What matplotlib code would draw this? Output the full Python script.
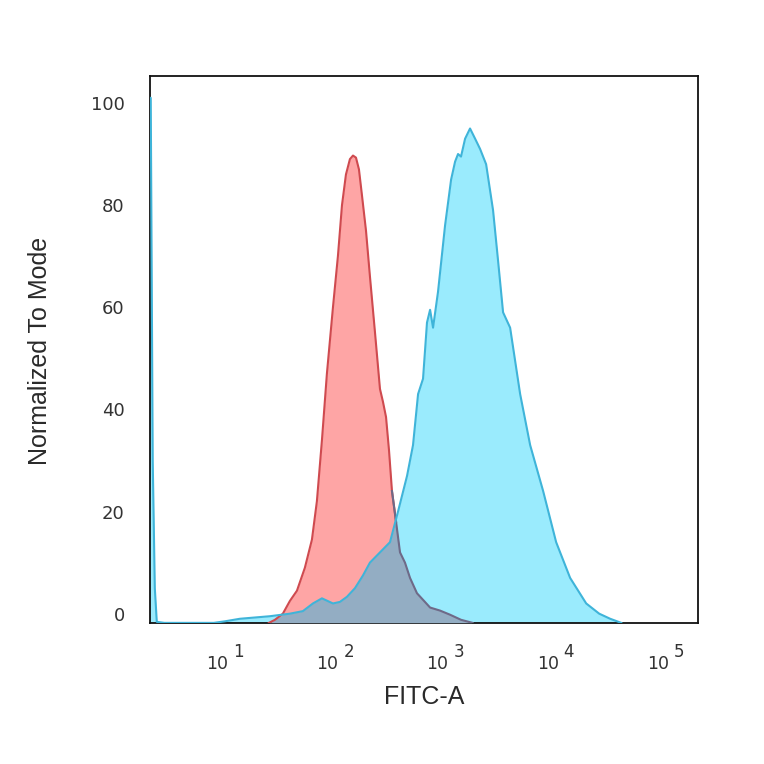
import numpy as np
import matplotlib
matplotlib.use("Agg")
import matplotlib.pyplot as plt

# log10(FITC-A) positions and Normalized-To-Mode values
red_log_fitc = [1.40, 1.455, 1.527, 1.591, 1.655, 1.727, 1.791, 1.836, 1.882, 1.927, 1.982,
                2.027, 2.064, 2.100, 2.136, 2.164, 2.191, 2.218, 2.245, 2.282, 2.318,
                2.364, 2.409, 2.436, 2.464, 2.491, 2.518, 2.555, 2.591, 2.636, 2.682,
                2.745, 2.809, 2.864, 2.955, 3.045, 3.145, 3.25]
red_values = [-1.8, -1.2, 0.0, 2.5, 4.5, 9.0, 14.5, 22.0, 34.0, 47.0, 60.0,
              70.0, 80.0, 86.0, 89.0, 89.7, 89.3, 87.0, 82.0, 75.0, 66.0,
              55.0, 44.0, 41.5, 38.5, 32.0, 24.0, 18.0, 12.0, 10.0, 7.0,
              4.0, 2.5, 1.2, 0.6, -0.2, -1.2, -1.8]

blue_log_fitc = [0.30, 0.327, 0.345, 0.364, 0.382, 0.45, 0.90, 1.0, 1.136, 1.409, 1.591,
                 1.709, 1.800, 1.882, 1.982, 2.045, 2.109, 2.182, 2.255, 2.318, 2.409,
                 2.500, 2.573, 2.655, 2.709, 2.755, 2.800, 2.836, 2.864, 2.891, 2.936,
                 3.000, 3.055, 3.091, 3.118, 3.145, 3.182, 3.227, 3.273, 3.318, 3.373,
                 3.436, 3.482, 3.527, 3.591, 3.682, 3.773, 3.891, 4.009, 4.136, 4.282,
                 4.400, 4.50, 4.60]
blue_values = [101.0, 101.0, 30.0, 5.0, -1.6, -1.8, -1.8, -1.5, -1.0, -0.5, 0.0,
               0.5, 2.0, 3.0, 2.0, 2.3, 3.3, 5.0, 7.5, 10.0, 12.0,
               14.0, 20.0, 27.0, 33.0, 43.0, 46.0, 57.0, 59.5, 56.0, 63.0,
               76.0, 85.0, 88.5, 90.0, 89.5, 93.0, 95.0, 93.0, 91.0, 88.0,
               79.0, 69.0, 59.0, 56.0, 43.0, 33.0, 24.0, 14.0, 7.0, 2.0,
               0.0, -1.0, -1.8]

y_ticks = [0, 20, 40, 60, 80, 100]
x_ticks = [1e1, 1e2, 1e3, 1e4, 1e5]
x_tick_base = "10"
x_tick_exponents = ["1", "2", "3", "4", "5"]

red_x = 10.0 ** np.array(red_log_fitc)
blue_x = 10.0 ** np.array(blue_log_fitc)
red_y = np.array(red_values)
blue_y = np.array(blue_values)

fig = plt.figure(figsize=(7.64, 7.64), dpi=100)
ax = fig.add_axes([0.196, 0.185, 0.718, 0.715])
ax.set_xscale("log")
ax.set_xlim(10 ** 0.318, 10 ** 5.3)
ax.set_ylim(-1.76, 105.2)

base = -1.76
ax.fill_between(blue_x, base, blue_y, color="#9aebfd", lw=0, zorder=1)
ax.fill_between(red_x, base, red_y, color="#fea5a5", lw=0, zorder=2)
# overlap region
grid = np.unique(np.concatenate([red_x, blue_x]))
grid = grid[(grid >= red_x.min()) & (grid <= red_x.max())]
r_i = np.interp(np.log10(grid), red_log_fitc, red_values)
b_i = np.interp(np.log10(grid), blue_log_fitc, blue_values)
ax.fill_between(grid, base, np.minimum(r_i, b_i), color="#93adc3", lw=0, zorder=3)

# red outline: darker grey-violet where it lies inside the blue histogram
b_at_r = np.interp(red_log_fitc, blue_log_fitc, blue_values)
inside = (red_y <= b_at_r + 0.5) & (np.array(red_log_fitc) > 2.3)
red_out = np.where(~inside | np.roll(~inside, 1), red_y, np.nan)
red_in = np.where(inside | np.roll(inside, -1), red_y, np.nan)
ax.plot(red_x, red_out, color="#cf4a4f", lw=1.5, zorder=4)
ax.plot(red_x, red_in, color="#6e6a88", lw=1.5, zorder=4)
ax.plot(blue_x, blue_y, color="#3fb4d9", lw=1.5, zorder=5)

ax.set_yticks(y_ticks)
ax.set_yticklabels([str(v) for v in y_ticks])
ax.set_xticks(x_ticks)
ax.set_xticklabels([])
ax.minorticks_off()
ax.tick_params(axis="y", length=0, pad=18, labelsize=13, labelcolor="#333333")
ax.tick_params(axis="x", length=0)
for t, e in zip(x_ticks, x_tick_exponents):
    ax.annotate(x_tick_base, xy=(t, 0), xycoords=("data", "axes fraction"),
                xytext=(2.5, -23), textcoords="offset points", ha="right", va="top",
                fontsize=12.5, color="#333333")
    ax.annotate(e, xy=(t, 0), xycoords=("data", "axes fraction"),
                xytext=(6.0, -14.5), textcoords="offset points", ha="left", va="top",
                fontsize=12, color="#333333")
for s in ax.spines.values():
    s.set_linewidth(1.3)
    s.set_color("#111111")

fig.text(424 / 764, 1 - 697 / 764, "FITC-A", fontsize=18, family="Liberation Sans",
         color="#2a2a2a", ha="center", va="center")
fig.text(40 / 764, 1 - 351 / 764, "Normalized To Mode", fontsize=18, family="Liberation Sans",
         color="#2a2a2a", ha="center", va="center", rotation=90)

fig.savefig("out.png", dpi=100)
